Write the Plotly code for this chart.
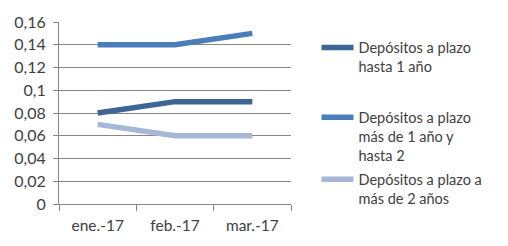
import plotly.graph_objects as go

categories = ["ene.-17", "feb.-17", "mar.-17"]
series_names = [
    "Depósitos a plazo<br>hasta 1 año",
    "Depósitos a plazo<br>más de 1 año y<br>hasta 2",
    "Depósitos a plazo a<br>más de 2 años",
]
s1 = [0.08, 0.09, 0.09]
s2 = [0.14, 0.14, 0.15]
s3 = [0.07, 0.06, 0.06]
y_ticks = [0, 0.02, 0.04, 0.06, 0.08, 0.1, 0.12, 0.14, 0.16]

colors = ["#3D6596", "#4A7EBB", "#A5B8D6"]
font = "Lato, 'Open Sans', sans-serif"
txt = "#404040"

legend_ids = ["legend", "legend2", "legend3"]
legend_y = [0.947, 0.564, 0.223]

fig = go.Figure()
for name, vals, c, lid in zip(series_names, [s1, s2, s3], colors, legend_ids):
    fig.add_trace(go.Scatter(x=categories, y=vals, name=name, mode="lines",
                             line=dict(color=c, width=5.5), legend=lid))

leg_common = dict(x=1.11, xanchor="left", yanchor="top", valign="top",
                  itemwidth=32, font=dict(size=14.5, color=txt),
                  bgcolor="rgba(0,0,0,0)")
fig.update_layout(
    width=508, height=246,
    margin=dict(l=59, r=217, t=17, b=41),
    paper_bgcolor="white", plot_bgcolor="white",
    separators=",.",
    font=dict(family=font, size=14, color=txt),
    showlegend=True,
    legend=dict(y=legend_y[0], **leg_common),
    legend2=dict(y=legend_y[1], **leg_common),
    legend3=dict(y=legend_y[2], **leg_common),
)
fig.update_xaxes(type="category", range=[-0.5, 2.5], showline=True, linecolor="#868686",
                 linewidth=1, ticks="outside", tickson="boundaries", ticklen=6,
                 tickcolor="#868686", showgrid=False, tickfont=dict(size=15.5, color=txt),
                 zeroline=False, ticklabelstandoff=7)
fig.update_yaxes(range=[0, 0.16], tickvals=y_ticks, showline=True, linecolor="#868686",
                 linewidth=1, ticks="outside", ticklen=5, tickcolor="#868686",
                 showgrid=True, gridcolor="#868686", gridwidth=1, zeroline=False,
                 tickfont=dict(size=16, color=txt), ticklabelstandoff=4)

fig.write_html("out.html")
